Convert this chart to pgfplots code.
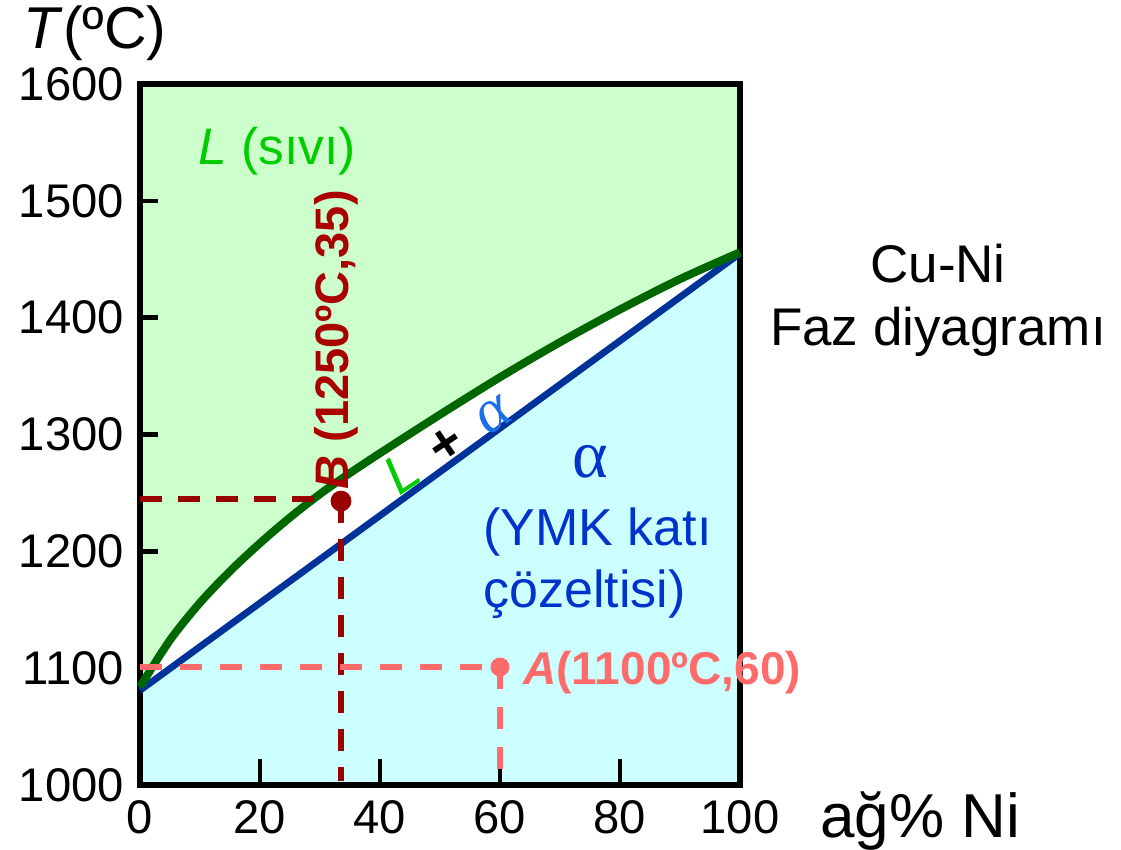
\documentclass[border=0pt]{standalone}
\usepackage{pgfplots}
\pgfplotsset{compat=1.18}
\usepgfplotslibrary{fillbetween}
\usepackage{fontspec}
\setmainfont{Liberation Sans}
\newfontfamily\serifalpha{Liberation Serif}
\definecolor{liqfill}{HTML}{CCFFCC}
\definecolor{solfill}{HTML}{CCFFFF}
\definecolor{liqline}{HTML}{006600}
\definecolor{solline}{HTML}{003399}
\definecolor{ltext}{HTML}{00CC00}
\definecolor{bred}{HTML}{AA0000}
\definecolor{bline}{HTML}{990000}
\definecolor{apink}{HTML}{FF6B6B}
\definecolor{atext}{HTML}{0033CC}
\definecolor{aband}{HTML}{1A6EE8}
\pgfplotstableread{
x T
0 1084
5 1124
10 1156
15 1183
20 1207
25 1229
30 1249
35 1267
40 1284
50 1317
60 1349
70 1379
80 1407
90 1433
100 1456
}\liquidus
\begin{document}
\begin{tikzpicture}
\begin{axis}[
  at={(0,0)}, anchor=south west,
  scale only axis, width=300pt, height=350.5pt,
  xmin=0, xmax=100, ymin=1000, ymax=1600,
  xtick={0,20,40,60,80,100},
  ytick={1000,1100,1200,1300,1400,1500,1600},
  tick pos=left,
  tick align=inside,
  set layers,
  clip=false,
  axis line style={line width=2.6pt, line cap=rect},
  every tick/.append style={black, line width=2.2pt},
  xtick style={/pgfplots/major tick length=13pt},
  ytick style={/pgfplots/major tick length=9pt},
  ticklabel style={font=\fontsize{23.6}{28}\selectfont},
  yticklabel style={xshift=-4.5pt},
  xticklabel style={yshift=-4pt},
  /pgf/number format/assume math mode=true,
  /pgf/number format/1000 sep={},
]
% boundary paths
\addplot[draw=none, name path=top, forget plot] coordinates {(0,1600) (100,1600)};
\addplot[draw=none, name path=bot, forget plot] coordinates {(0,1000) (100,1000)};
\addplot[draw=none, smooth, name path=liqp, forget plot] table[x=x, y=T] {\liquidus};
\addplot[draw=none, name path=solp, forget plot] coordinates {(0,1081) (100,1455)};
\addplot[liqfill, draw=none] fill between[of=top and liqp, on layer=axis background];
\addplot[solfill, draw=none] fill between[of=solp and bot, on layer=axis background];
% curves
\addplot[solline, line width=3.4pt] coordinates {(0,1081) (100,1455)};
\addplot[liqline, line width=4pt, smooth] table[x=x, y=T] {\liquidus};
% point B
\addplot[bline, line width=2.8pt, dash pattern=on 11pt off 8pt] coordinates {(0,1245) (31.5,1245)};
\addplot[bline, line width=3pt, dash pattern=on 11pt off 8pt] coordinates {(33.5,1243) (33.5,1003)};
\addplot[bline, only marks, mark=*, mark size=5pt] coordinates {(33.5,1243)};
% point A
\addplot[apink, line width=2.6pt, dash pattern=on 11pt off 9pt] coordinates {(0,1101) (60,1101)};
\addplot[apink, line width=2.6pt, dash pattern=on 11pt off 9pt] coordinates {(60,1101) (60,1000)};
\addplot[apink, only marks, mark=*, mark size=4.5pt] coordinates {(60,1101)};
% texts
\node[anchor=center, font=\fontsize{29.5}{34}\selectfont] at (axis cs:-7.5,1643.6) {\textit{T}(ºC)};
\node[anchor=base, font=\fontsize{31}{34}\selectfont] at (axis cs:130,955) {ağ\% Ni};
\node[anchor=base, font=\fontsize{26.5}{30}\selectfont] at (axis cs:133,1430.5) {Cu-Ni};
\node[anchor=base, font=\fontsize{26.5}{30}\selectfont] at (axis cs:133,1376.6) {Faz diyagramı};
\node[anchor=base west, inner sep=0pt, text=ltext, font=\fontsize{25.7}{30}\selectfont] at (axis cs:9.67,1530.7) {\textit{L} (sıvı)};
\node[anchor=base west, inner sep=0pt, rotate=90, text=bred, font=\bfseries\fontsize{23.5}{28}\selectfont] at (axis cs:34.67,1252.5) {\textit{B} (1250ºC,35)};
\node[anchor=base west, inner sep=0pt, text=apink, font=\bfseries\fontsize{23}{28}\selectfont] at (axis cs:63.83,1085.6) {\textit{A}(1100ºC,60)};
\node[anchor=center, rotate=34, font=\fontsize{27}{30}\selectfont] at (axis cs:51.2,1293.6) {{\color{ltext}\itshape L}\hspace{0.4em}\textbf{+}\hspace{0.45em}{\color{aband}\serifalpha\itshape\fontsize{31}{34}\selectfont α}};
\node[anchor=center, text=atext, font=\serifalpha\fontsize{34}{38}\selectfont] at (axis cs:75,1276.5) {α};
\node[anchor=base west, inner sep=0pt, text=atext, font=\fontsize{26}{30}\selectfont] at (axis cs:57.17,1205) {(YMK katı};
\node[anchor=base west, inner sep=0pt, text=atext, font=\fontsize{26}{30}\selectfont] at (axis cs:57.17,1151.5) {çözeltisi)};
\end{axis}
\pgfresetboundingbox
\path (-70pt,-32.5pt) rectangle (490.5pt,392.5pt);
\end{tikzpicture}
\end{document}
